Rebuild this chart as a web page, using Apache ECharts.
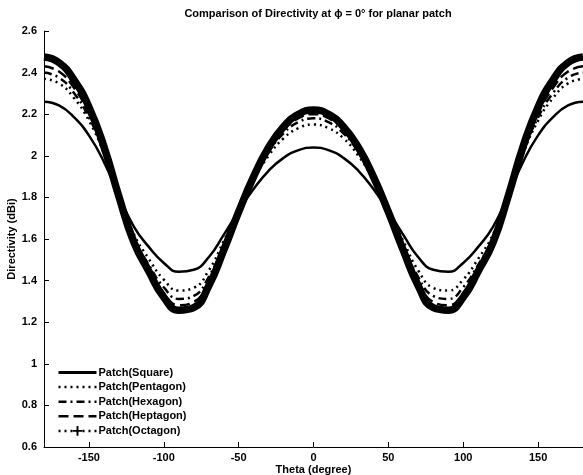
<!DOCTYPE html>
<html>
<head>
<meta charset="utf-8">
<script src="https://cdn.jsdelivr.net/npm/echarts@6/dist/echarts.min.js"></script>
<style>
  html, body { margin: 0; padding: 0; background: #fff; }
  #chart { width: 583px; height: 475px; }
</style>
</head>
<body>
<div id="chart"></div>
<script>
// theta in degree, -180..180 step 10
var theta = [-180,-170,-160,-150,-140,-130,-120,-110,-100,-90,-80,-70,-60,-50,-40,-30,-20,-10,
             0,10,20,30,40,50,60,70,80,90,100,110,120,130,140,150,160,170,180];

// directivity (dBi)
var dSquare = [2.26,2.242,2.186,2.098,1.971,1.81,1.66,1.562,1.485,1.442,1.452,1.512,1.62,1.735,1.84,1.928,1.99,2.027,
               2.04,2.027,1.99,1.928,1.84,1.735,1.62,1.512,1.452,1.442,1.485,1.562,1.66,1.81,1.971,2.098,2.186,2.242,2.26];
var dPentagon = [2.37,2.348,2.278,2.169,2.011,1.81,1.624,1.505,1.405,1.352,1.365,1.448,1.59,1.744,1.884,2.0,2.084,2.133,
                 2.15,2.133,2.084,2.0,1.884,1.744,1.59,1.448,1.365,1.352,1.405,1.505,1.624,1.81,2.011,2.169,2.278,2.348,2.37];
var dHexagon = [2.4,2.376,2.302,2.185,2.016,1.802,1.603,1.476,1.368,1.312,1.326,1.417,1.571,1.738,1.891,2.017,2.108,2.162,
                2.18,2.162,2.108,2.017,1.891,1.738,1.571,1.417,1.326,1.312,1.368,1.476,1.603,1.802,2.016,2.185,2.302,2.376,2.4];
var dHeptagon = [2.43,2.405,2.327,2.203,2.025,1.799,1.589,1.455,1.34,1.282,1.297,1.394,1.557,1.733,1.895,2.028,2.124,2.181,
                 2.2,2.181,2.124,2.028,1.895,1.733,1.557,1.394,1.297,1.282,1.34,1.455,1.589,1.799,2.025,2.203,2.327,2.405,2.43];
var dOctagon = [2.475,2.448,2.365,2.235,2.045,1.805,1.585,1.445,1.32,1.258,1.27,1.374,1.545,1.73,1.9,2.04,2.14,2.2,
                2.22,2.2,2.14,2.04,1.9,1.73,1.545,1.374,1.27,1.258,1.32,1.445,1.585,1.805,2.045,2.235,2.365,2.448,2.475];

var xTicks = [-150, -100, -50, 0, 50, 100, 150];
var seriesNames = ['Patch(Square)', 'Patch(Pentagon)', 'Patch(Hexagon)', 'Patch(Heptagon)', 'Patch(Octagon)'];

function pairs(ys) {
    return theta.map(function (t, i) { return [t, ys[i]]; });
}

var chart = echarts.init(document.getElementById('chart'));
var font = 'Liberation Sans, Arial, sans-serif';
var plusIcon = 'path://M4,0H6V4H10V6H6V10H4V6H0V4H4Z';

var option = {
    animation: false,
    backgroundColor: '#fff',
    title: {
        text: 'Comparison of Directivity at \u03D5 = 0\u00B0 for planar patch',
        left: 313, top: 3, textAlign: 'center',
        textStyle: { fontFamily: font, fontSize: 11, fontWeight: 'bold', color: '#000' }
    },
    grid: { left: 44, right: 0, top: 31, bottom: 28, outerBoundsMode: 'none', containLabel: false },
    legend: {
        orient: 'vertical',
        left: 57, top: 367, padding: 0,
        itemWidth: 38, itemHeight: 12, itemGap: 3.6,
        textStyle: { fontFamily: font, fontSize: 11, fontWeight: 'bold', color: '#000', padding: [0, 0, 0, -3] },
        data: [
            { name: seriesNames[0], itemStyle: { opacity: 0 }, lineStyle: { width: 3, type: 'solid' } },
            { name: seriesNames[1], itemStyle: { opacity: 0 }, lineStyle: { width: 2.5, type: [2, 4] } },
            { name: seriesNames[2], itemStyle: { opacity: 0 }, lineStyle: { width: 2.5, type: [8, 4, 2, 4] } },
            { name: seriesNames[3], itemStyle: { opacity: 0 }, lineStyle: { width: 2.5, type: [10, 5] } },
            { name: seriesNames[4], lineStyle: { width: 2.5, type: [2, 4] } }
        ]
    },
    xAxis: {
        type: 'value', min: -180, max: 180,
        name: 'Theta (degree)', nameLocation: 'middle', nameGap: 17, nameMoveOverlap: false,
        nameTextStyle: { fontFamily: font, fontSize: 11, fontWeight: 'bold', color: '#000' },
        axisLine: { onZero: false, lineStyle: { color: '#000', width: 1 } },
        axisTick: { inside: true, length: 5, customValues: xTicks, lineStyle: { color: '#000' } },
        axisLabel: { customValues: xTicks, margin: 5, fontFamily: font, fontSize: 11, fontWeight: 'bold', color: '#000' },
        splitLine: { show: false }
    },
    yAxis: {
        type: 'value', min: 0.6, max: 2.6, interval: 0.2,
        name: 'Directivity (dBi)', nameLocation: 'middle', nameGap: 27, nameRotate: 90, nameMoveOverlap: false,
        nameTextStyle: { fontFamily: font, fontSize: 11, fontWeight: 'bold', color: '#000' },
        axisLine: { show: true, onZero: false, lineStyle: { color: '#000', width: 1 } },
        axisTick: { show: true, inside: true, length: 5, lineStyle: { color: '#000' } },
        axisLabel: {
            margin: 7, fontFamily: font, fontSize: 11, fontWeight: 'bold', color: '#000',
            formatter: function (v) { return String(Math.round(v * 10) / 10); }
        },
        splitLine: { show: false }
    },
    series: [
        { name: seriesNames[4], type: 'line', data: pairs(dOctagon), smooth: true, symbol: plusIcon, showSymbol: false,
          lineStyle: { color: '#000', width: 7.5 }, itemStyle: { color: '#000' }, z: 1 },
        { name: seriesNames[3], type: 'line', data: pairs(dHeptagon), smooth: true, symbol: 'none',
          lineStyle: { color: '#000', width: 2.5, type: [10, 5] }, itemStyle: { color: '#000' }, z: 2 },
        { name: seriesNames[2], type: 'line', data: pairs(dHexagon), smooth: true, symbol: 'none',
          lineStyle: { color: '#000', width: 2.5, type: [8, 4, 2, 4] }, itemStyle: { color: '#000' }, z: 3 },
        { name: seriesNames[1], type: 'line', data: pairs(dPentagon), smooth: true, symbol: 'none',
          lineStyle: { color: '#000', width: 2.5, type: [2, 4] }, itemStyle: { color: '#000' }, z: 4 },
        { name: seriesNames[0], type: 'line', data: pairs(dSquare), smooth: true, symbol: 'none',
          lineStyle: { color: '#000', width: 2.5 }, itemStyle: { color: '#000' }, z: 5 }
    ]
};

chart.setOption(option);
</script>
</body>
</html>
